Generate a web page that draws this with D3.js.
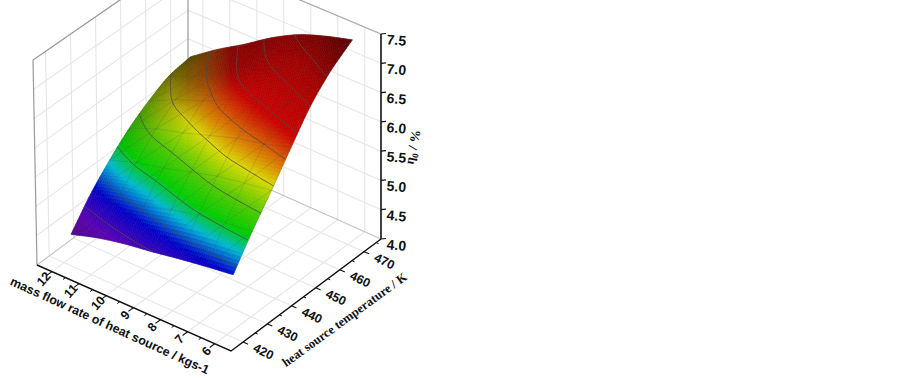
<!DOCTYPE html>
<html>
<head>
<meta charset="utf-8">
<script src="https://d3js.org/d3.v7.min.js"></script>
<style>
  html, body { margin: 0; padding: 0; background: #fff; }
  svg { display: block; }
  .sans { font-family: "Liberation Sans", Arial, sans-serif; font-weight: bold; fill: #111; }
  .serif { font-family: "Liberation Serif", "Times New Roman", serif; font-weight: bold; fill: #111; }
</style>
</head>
<body>
<div id="chart"></div>
<script>
const width = 903;
const height = 378;

// values
const massFlow = [12, 11, 10, 9, 8, 7, 6];
const temperature = [423, 431, 439, 447, 455, 463, 472];
const eta12 = [4.39, 4.82, 5.17, 5.47, 5.70, 5.88, 5.95];
const eta11 = [4.53, 4.95, 5.33, 5.67, 5.93, 6.10, 6.28];
const eta10 = [4.63, 5.05, 5.44, 5.80, 6.10, 6.35, 6.57];
const eta9 = [4.70, 5.17, 5.57, 5.95, 6.33, 6.63, 6.88];
const eta8 = [4.78, 5.28, 5.70, 6.10, 6.48, 6.83, 7.13];
const eta7 = [4.85, 5.35, 5.78, 6.20, 6.63, 6.98, 7.30];
const eta6 = [4.91, 5.40, 5.85, 6.33, 6.80, 7.15, 7.43];
const etaGrid = [eta12, eta11, eta10, eta9, eta8, eta7, eta6];

const massTicks = [12, 11, 10, 9, 8, 7, 6];
const massMinor = [11.5, 10.5, 9.5, 8.5, 7.5, 6.5];
const tempTicks = [420, 430, 440, 450, 460, 470];
const tempMinor = [425, 435, 445, 455, 465, 475];
const etaTicks = [4, 4.5, 5, 5.5, 6, 6.5, 7, 7.5];
const contourLevels = [4.7, 5.0, 5.3, 5.6, 5.9, 6.2, 6.5, 6.8, 7.1];

const colorStops = [4.3, 4.6, 4.9, 5.15, 5.35, 5.6, 5.9, 6.1, 6.45, 7.0, 7.5];
const colorRange = ['#4a0a70', '#5a00b0', '#0000c8', '#00b8d0', '#00cc00', '#50c800', '#d8d800', '#d88000', '#c80000', '#a80000', '#600000'];

const uScale = d3.scaleLinear().domain([12.55, 5.4]).range([0, 1]);
const vScale = d3.scaleLinear().domain([415, 477]).range([0, 1]);
const wScale = d3.scaleLinear().domain([4, 7.5]).range([0, 1]);
const colorScale = d3.scaleLinear().domain(colorStops).range(colorRange);

// screen corners of the box: floor then top
const corner = {
  A: [37, 265], B: [231, 351], D: [188, 153], C: [381, 239],
  a: [33, 60], b: [227, 140], d: [188, -47], c: [381, 34]
};

function mix(p, q, t) {
  return [p[0] + (q[0] - p[0]) * t, p[1] + (q[1] - p[1]) * t];
}

function boxPoint(u, v, w) {
  const low = mix(mix(corner.A, corner.B, u), mix(corner.D, corner.C, u), v);
  const top = mix(mix(corner.a, corner.b, u), mix(corner.d, corner.c, u), v);
  return mix(low, top, w);
}

function project(m, t, e) {
  return boxPoint(uScale(m), vScale(t), wScale(e));
}

const svg = d3.select('#chart').append('svg')
  .attr('width', width)
  .attr('height', height);

const line = d3.line();

// walls and floor grid
const grid = svg.append('g').attr('fill', 'none').attr('stroke', '#e6e6e6').attr('stroke-width', 1.1);
const mMin = uScale.domain()[0], mMax = uScale.domain()[1];
const tMin = vScale.domain()[0], tMax = vScale.domain()[1];
const eMin = wScale.domain()[0], eMax = wScale.domain()[1];

tempTicks.forEach(t => {
  grid.append('path').attr('d', line([project(mMax, t, eMin), project(mMin, t, eMin), project(mMin, t, eMax)]));
});
massTicks.forEach(m => {
  grid.append('path').attr('d', line([project(m, tMin, eMin), project(m, tMax, eMin), project(m, tMax, eMax)]));
});
etaTicks.slice(1).forEach(e => {
  grid.append('path').attr('d', line([project(mMin, tMin, e), project(mMin, tMax, e), project(mMax, tMax, e)]));
});

// box frame
const frame = svg.append('g').attr('fill', 'none');
frame.append('path').attr('stroke', '#999').attr('stroke-width', 1.2)
  .attr('d', line([corner.A, corner.a, corner.d]));
frame.append('path').attr('stroke', '#aaa').attr('stroke-width', 1.2)
  .attr('d', line([corner.d, corner.c]));
frame.append('path').attr('stroke', '#999').attr('stroke-width', 1.2)
  .attr('d', line([corner.D, corner.d]));
frame.append('path').attr('stroke', '#c4c4c4').attr('stroke-width', 1.1)
  .attr('d', line([corner.A, corner.D, corner.C]));

// surface, smoothed between the read values only for drawing
const subs = 12;
const nm = massFlow.length, nt = temperature.length;

function catmull(p0, p1, p2, p3, t) {
  return 0.5 * (2 * p1 + (p2 - p0) * t + (2 * p0 - 5 * p1 + 4 * p2 - p3) * t * t + (3 * p1 - p0 - 3 * p2 + p3) * t * t * t);
}

function cubicAt(arr, x) {
  const n = arr.length;
  const i = Math.min(Math.floor(x), n - 2);
  const t = x - i;
  const at = k => k < 0 ? 2 * arr[0] - arr[1] : k >= n ? 2 * arr[n - 1] - arr[n - 2] : arr[k];
  return catmull(at(i - 1), at(i), at(i + 1), at(i + 2), t);
}

function etaAt(im, it) {
  return cubicAt(etaGrid.map(row => cubicAt(row, it)), im);
}

const massAt = d3.scaleLinear().domain(d3.range(nm)).range(massFlow);
const tempAt = d3.scaleLinear().domain(d3.range(nt)).range(temperature);

// lighting: slope towards the front makes the colour bright
const shadeGrid = etaGrid.map(row => row.map((e, j) => {
  const j0 = Math.max(j - 1, 0), j1 = Math.min(j + 1, nt - 1);
  const dw = wScale(row[j1]) - wScale(row[j0]);
  const dv = vScale(temperature[j1]) - vScale(temperature[j0]);
  return Math.min(1, 0.2 + 1.1 * dw / dv);
}));

function shadeAt(im, it) {
  const i = Math.min(Math.floor(im), nm - 2), j = Math.min(Math.floor(it), nt - 2);
  const a = im - i, b = it - j;
  return (1 - a) * ((1 - b) * shadeGrid[i][j] + b * shadeGrid[i][j + 1]) +
    a * ((1 - b) * shadeGrid[i + 1][j] + b * shadeGrid[i + 1][j + 1]);
}

function fineProject(im, it) {
  return project(massAt(im), tempAt(it), etaAt(im, it));
}

const cells = [];
const stepsM = (nm - 1) * subs, stepsT = (nt - 1) * subs;
for (let i = 0; i < stepsM; i++) {
  for (let j = 0; j < stepsT; j++) {
    cells.push({ i: i / subs, j: j / subs });
  }
}

const ds = 1 / subs;
svg.append('g').selectAll('path')
  .data(cells)
  .enter()
  .append('path')
  .attr('d', c => line([
    fineProject(c.i, c.j), fineProject(c.i + ds, c.j),
    fineProject(c.i + ds, c.j + ds), fineProject(c.i, c.j + ds)
  ]) + 'Z')
  .attr('fill', c => {
    const e = etaAt(c.i + ds / 2, c.j + ds / 2);
    const s = shadeAt(c.i + ds / 2, c.j + ds / 2);
    const col = d3.rgb(colorScale(e));
    return d3.rgb(col.r * s, col.g * s, col.b * s).formatHex();
  })
  .attr('stroke', function () { return d3.select(this).attr('fill'); })
  .attr('stroke-width', 0.6);

// mesh
const mesh = svg.append('g').attr('fill', 'none').attr('stroke', '#444').attr('stroke-opacity', 0.22).attr('stroke-width', 0.8);
d3.range(nm).forEach(i => {
  mesh.append('path').attr('d', line(d3.range(nt).map(j => project(massFlow[i], temperature[j], etaGrid[i][j]))));
});
d3.range(nt).forEach(j => {
  mesh.append('path').attr('d', line(d3.range(nm).map(i => project(massFlow[i], temperature[j], etaGrid[i][j]))));
});
for (let i = 0; i < nm - 1; i++) {
  for (let j = 0; j < nt - 1; j++) {
    const pa = project(massFlow[i], temperature[j], etaGrid[i][j]);
    const pb = project(massFlow[i + 1], temperature[j + 1], etaGrid[i + 1][j + 1]);
    mesh.append('path').attr('d', line([pa, pb]));
  }
}

// contour lines
const cw = stepsT + 1, ch = stepsM + 1;
const fineValues = [];
for (let i = 0; i < ch; i++) {
  for (let j = 0; j < cw; j++) {
    fineValues.push(etaAt(i / subs, j / subs));
  }
}
const contours = d3.contours().size([cw, ch]).thresholds(contourLevels)(fineValues);
const contourGroup = svg.append('g').attr('fill', 'none').attr('stroke', '#4a4a4a').attr('stroke-opacity', 0.8).attr('stroke-width', 1);
const inside = p => p[0] > 0.01 && p[0] < cw - 0.01 && p[1] > 0.01 && p[1] < ch - 0.01;
contours.forEach(level => {
  level.coordinates.forEach(poly => poly.forEach(ring => {
    let run = [];
    const flush = () => {
      if (run.length > 1) {
        const pts = run.map(p => fineProject(
          Math.max(0, Math.min(nm - 1, (p[1] - 0.5) / subs)),
          Math.max(0, Math.min(nt - 1, (p[0] - 0.5) / subs))));
        contourGroup.append('path').attr('d', line(pts));
      }
      run = [];
    };
    ring.forEach(p => {
      if (inside(p)) run.push(p); else flush();
    });
    flush();
  }));
});

// axes
const axes = svg.append('g').attr('stroke', '#111').attr('fill', 'none');
axes.append('path').attr('stroke-width', 1.4).attr('d', line([corner.A, corner.B, corner.C]));
axes.append('path').attr('stroke-width', 1.6).attr('d', line([corner.C, corner.c]));

massTicks.forEach(m => {
  const p = project(m, tMin, eMin);
  axes.append('path').attr('stroke-width', 1.1).attr('d', line([p, [p[0] - 5, p[1] + 3.7]]));
});
massMinor.forEach(m => {
  const p = project(m, tMin, eMin);
  axes.append('path').attr('stroke-width', 1).attr('d', line([p, [p[0] - 2.5, p[1] + 1.9]]));
});
tempTicks.forEach(t => {
  const p = project(mMax, t, eMin);
  axes.append('path').attr('stroke-width', 1.1).attr('d', line([p, [p[0] + 5, p[1] + 2.2]]));
});
tempMinor.forEach(t => {
  const p = project(mMax, t, eMin);
  axes.append('path').attr('stroke-width', 1).attr('d', line([p, [p[0] + 2.5, p[1] + 1.1]]));
});
etaTicks.forEach(e => {
  const p = project(mMax, tMax, e);
  axes.append('path').attr('stroke-width', 1.2).attr('d', line([p, [p[0] + 5, p[1] - 0.5]]));
});

// tick labels
svg.append('g').selectAll('text')
  .data(etaTicks)
  .enter()
  .append('text')
  .attr('class', 'sans')
  .attr('font-size', 14)
  .attr('text-anchor', 'middle')
  .attr('transform', d => {
    const p = project(mMax, tMax, d);
    return 'translate(' + (p[0] + 15) + ',' + (p[1] + 11) + ') rotate(5)';
  })
  .text(d => d.toFixed(1));

svg.append('g').selectAll('text')
  .data(massTicks)
  .enter()
  .append('text')
  .attr('class', 'sans')
  .attr('font-size', 12.5)
  .attr('text-anchor', 'middle')
  .attr('dominant-baseline', 'middle')
  .attr('transform', d => {
    const p = project(d, tMin, eMin);
    return 'translate(' + (p[0] - 7.5) + ',' + (p[1] + 8) + ') rotate(-48)';
  })
  .text(d => d);

svg.append('g').selectAll('text')
  .data(tempTicks)
  .enter()
  .append('text')
  .attr('class', 'sans')
  .attr('font-size', 12.5)
  .attr('text-anchor', 'middle')
  .attr('dominant-baseline', 'middle')
  .attr('transform', d => {
    const p = project(mMax, d, eMin);
    return 'translate(' + (p[0] + 20) + ',' + (p[1] + 10.5) + ') rotate(26)';
  })
  .text(d => d);

// axis titles
svg.append('text')
  .attr('class', 'sans')
  .attr('font-size', 12.4)
  .attr('text-anchor', 'middle')
  .attr('transform', 'translate(108,329.5) rotate(24.5)')
  .text('mass flow rate of heat source / kgs-1');

svg.append('text')
  .attr('class', 'serif')
  .attr('font-size', 12.6)
  .attr('text-anchor', 'middle')
  .attr('transform', 'translate(347,323) rotate(-36)')
  .text('heat source temperature / K');

const etaTitle = svg.append('text')
  .attr('class', 'serif')
  .attr('font-size', 13)
  .attr('text-anchor', 'middle')
  .attr('transform', 'translate(417,148) rotate(-78)');
etaTitle.append('tspan').text('\u03B7');
etaTitle.append('tspan').attr('font-size', 9).attr('dy', 3).text('0');
etaTitle.append('tspan').attr('dy', -3).text(' / %');
</script>
</body>
</html>
